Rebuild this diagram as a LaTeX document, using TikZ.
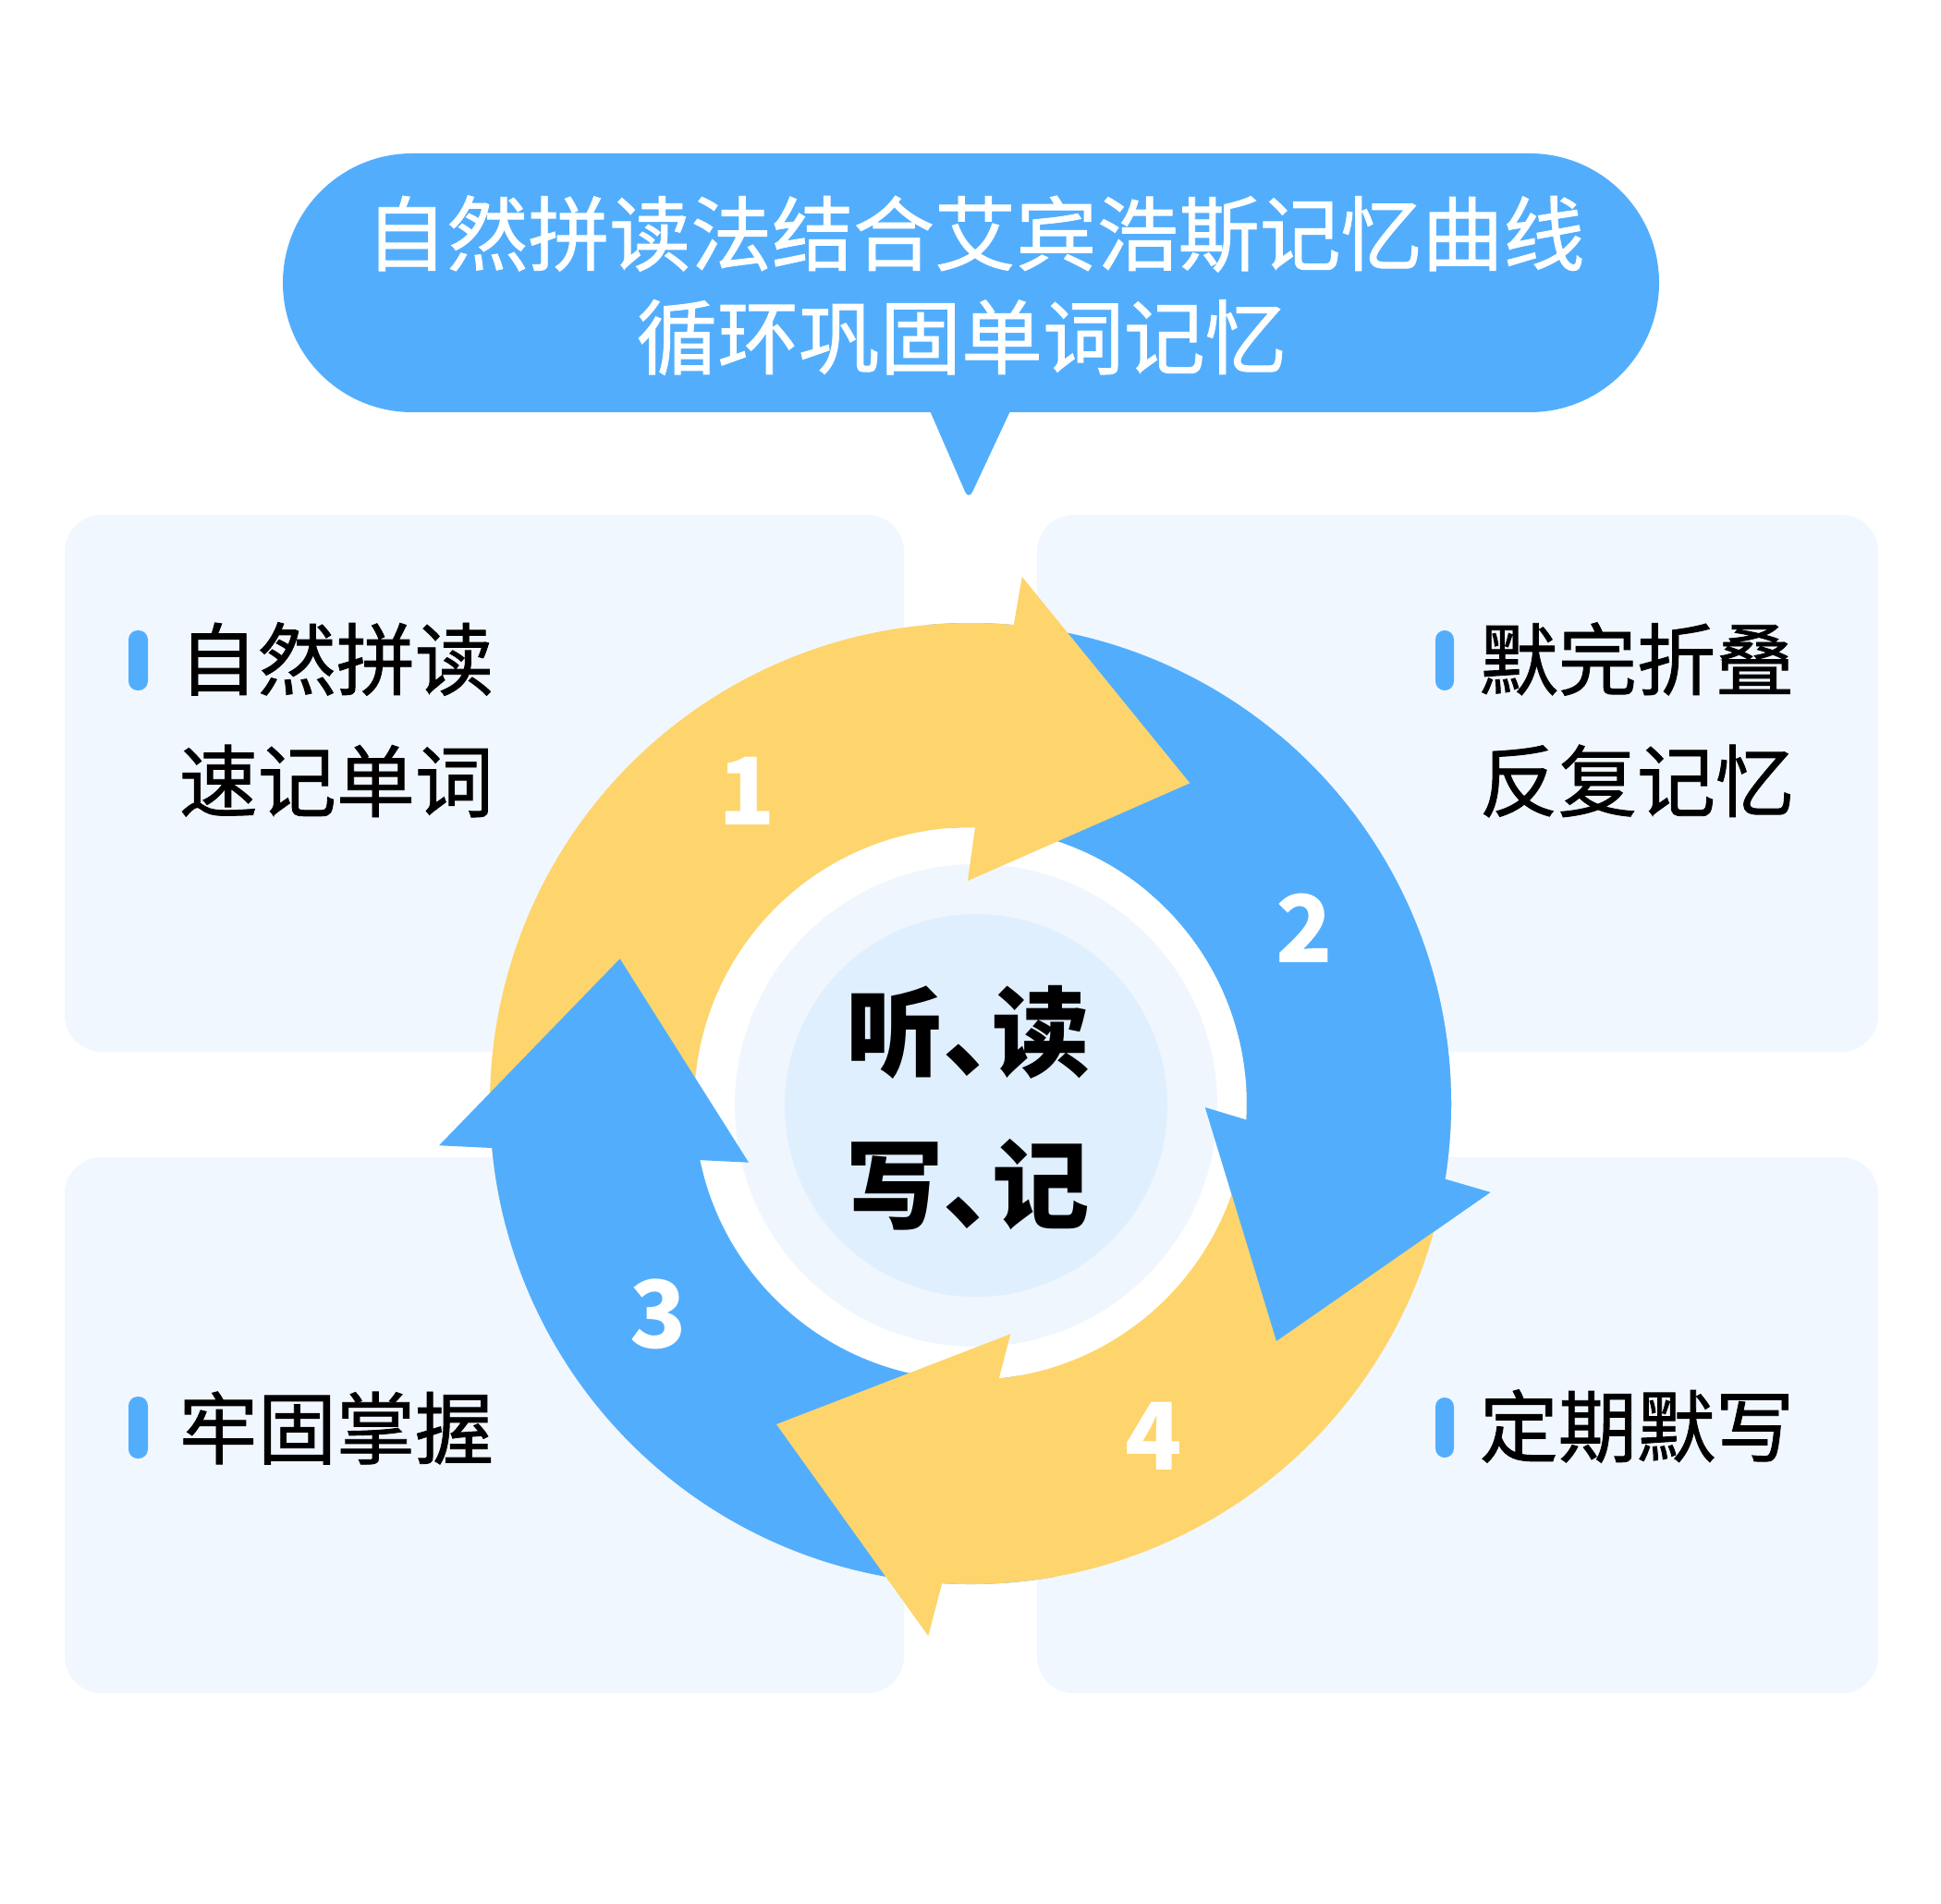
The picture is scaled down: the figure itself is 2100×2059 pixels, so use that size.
\documentclass[tikz,border=0pt]{standalone}
\usepackage{fontspec}
\setmainfont{Noto Sans CJK SC}
\newfontfamily\cjkmed{Noto Sans CJK SC}[FakeBold=1]
\newfontfamily\cjkpalt{Noto Sans CJK SC}[RawFeature=+palt]
\usetikzlibrary{calc}
\definecolor{ayellow}{HTML}{FED56C}
\definecolor{ablue}{HTML}{52AEFD}
\definecolor{panelbg}{HTML}{F1F7FE}
\definecolor{disclight}{HTML}{EFF6FE}
\definecolor{discmid}{HTML}{E0EFFD}
\tikzset{
  panel/.style={fill=panelbg, rounded corners=0.4cm},
  bar/.style={fill=ablue, rounded corners=0.1cm},
  titletext/.style={inner sep=0pt, text=white, font=\cjkmed\fontsize{25pt}{30pt}\selectfont},
  paneltext/.style={inner sep=0pt, anchor=west, text=black, font=\cjkmed\fontsize{24.2pt}{29pt}\selectfont},
  centertext/.style={inner sep=0pt, text=black, font=\cjkpalt\bfseries\fontsize{30pt}{36pt}\selectfont},
  digit/.style={inner sep=0pt, text=white, font=\bfseries\fontsize{28.7pt}{34pt}\selectfont},
}
\begin{document}
\begin{tikzpicture}[x=0.01cm,y=0.01cm]
\useasboundingbox (0,0) rectangle (2100,2059);
\fill[white] (0,0) rectangle (2100,2059);

% panels
\fill[panel] (70,921) rectangle (978,1502);
\fill[panel] (1122,921) rectangle (2032,1502);
\fill[panel] (70,227) rectangle (978,807);
\fill[panel] (1122,227) rectangle (2032,807);

% title bubble
\fill[ablue, rounded corners=1.4cm] (306,1613) rectangle (1795,1893);
\fill[ablue, rounded corners=0.1cm] (995,1640) -- (1048,1518) -- (1105,1640) -- cycle;
\node[titletext] (t1) at (1055,1806) {自然拼读法结合艾宾浩斯记忆曲线};
\node[titletext] (t2) at (1040,1694) {循环巩固单词记忆};

% arrow coordinates
\coordinate (C) at (1050,865);
\coordinate (B1o) at (1105.7,1435);
\coordinate (T1) at (1287.3,1211.7);
\coordinate (B1i) at (1047,1106);
\coordinate (B2i) at (1304,860.7);
\coordinate (T2) at (1381,608);
\coordinate (B2o) at (1612.3,769);
\coordinate (T3) at (670.7,1021.7);
\coordinate (B3o) at (475,819.7);
\coordinate (B3i) at (810,801.3);
\coordinate (B4i) at (1093.3,615.7);
\coordinate (T4) at (840,518);
\coordinate (B4o) at (1004.3,289);

% white ring interior and center discs
\fill[white] (C) circle[radius=305];
\fill[disclight] (1056,863) circle[radius=261];
\fill[discmid] (1056,863) circle[radius=207];

% arrow 2 (blue, right)
\fill[ablue] ($(C)+(95:520)$) arc[start angle=95,end angle=-9.05,radius=520] -- (B2o) -- (T2) -- (B2i) -- ($(C)+(-3.4:299)$) arc[start angle=-3.4,end angle=95,radius=299] -- cycle;
% arrow 1 (yellow, top)
\fill[ayellow] ($(C)+(195:520)$) arc[start angle=195,end angle=84.84,radius=520] -- (B1o) -- (T1) -- (B1i) -- ($(C)+(89.04:299)$) arc[start angle=89.04,end angle=195,radius=299] -- cycle;
% arrow 3 (blue, left)
\fill[ablue] ($(C)+(280:520)$) arc[start angle=280,end angle=185.3,radius=520] -- (B3o) -- (T3) -- (B3i) -- ($(C)+(191.8:299)$) arc[start angle=191.8,end angle=280,radius=299] -- cycle;
% arrow 4 (yellow, bottom)
\fill[ayellow] ($(C)+(5:520)$) arc[start angle=5,end angle=-93.4,radius=520] -- (B4o) -- (T4) -- (B4i) -- ($(C)+(-84.1:299)$) arc[start angle=-84.1,end angle=5,radius=299] -- cycle;
% arrow 2 head again on top
\fill[ablue] ($(C)+(50:520)$) arc[start angle=50,end angle=-9.05,radius=520] -- (B2o) -- (T2) -- (B2i) -- ($(C)+(-3.4:299)$) arc[start angle=-3.4,end angle=50,radius=299] -- cycle;

% digits
\node[digit] (n1) at (808,1203) {1};
\node[digit] (n2) at (1411,1055) {2};
\node[digit] (n3) at (712,637) {3};
\node[digit] (n4) at (1248,505) {4};

% center text
\node[centertext] (c1) at (1047,942) {听、读};
\node[centertext] (c2) at (1047,777) {写、记};

% bars
\fill[bar] (139,1312) rectangle (160,1377);
\fill[bar] (1553,1312) rectangle (1573,1377);
\fill[bar] (139,481) rectangle (160,548);
\fill[bar] (1553,482) rectangle (1573,547);

% panel texts
\node[paneltext] (p1a) at (193,1346) {自然拼读};
\node[paneltext] (p1b) at (193,1214) {速记单词};
\node[paneltext] (p2a) at (1600,1346) {默完折叠};
\node[paneltext] (p2b) at (1600,1214) {反复记忆};
\node[paneltext] (p3) at (193,514) {牢固掌握};
\node[paneltext] (p4) at (1600,516) {定期默写};
\end{tikzpicture}
\end{document}
